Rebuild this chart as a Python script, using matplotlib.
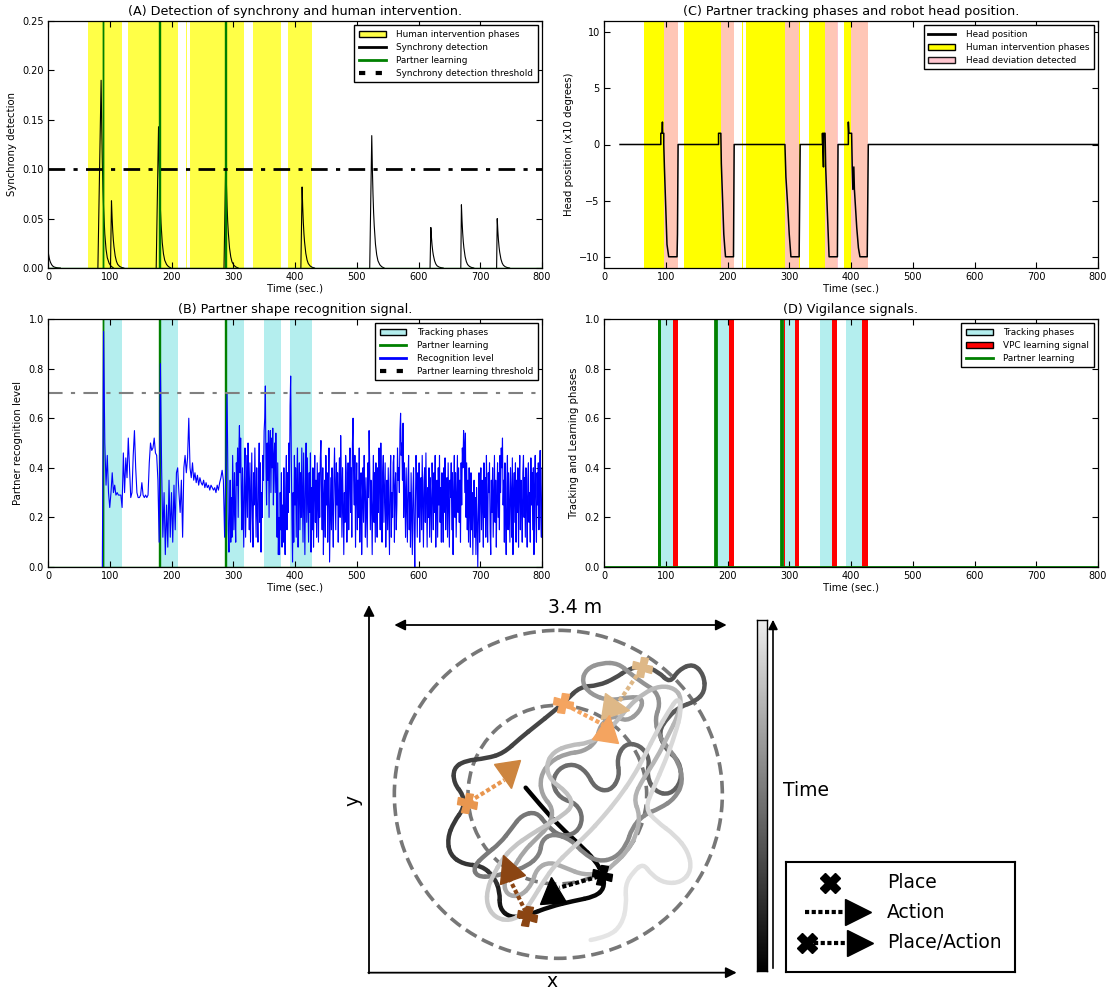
import numpy as np
import matplotlib
matplotlib.use('Agg')
import matplotlib.pyplot as plt
from matplotlib.patches import Patch, Circle, PathPatch, FancyArrowPatch
from matplotlib.lines import Line2D
from matplotlib.path import Path
from matplotlib.markers import MarkerStyle
from matplotlib.transforms import Affine2D
from matplotlib.colors import Normalize, LinearSegmentedColormap

plt.rcParams['font.family'] = ['DejaVu Sans']

# ---------------- data ----------------
human_phases = [(64.5, 120), (129, 210), (223.7, 225.5), (230, 317), (332, 378), (388.5, 428)]
head_deviation = [(96.8, 119.5), (188.7, 210), (293.5, 316.5), (357.5, 378.5), (400.5, 428)]
tracking_B = [(89.2, 119.1), (181, 210), (289, 317), (349.4, 377), (391.4, 427.6)]
tracking_D = [(90.4, 112.2), (181.3, 203.2), (289.5, 309), (349.4, 370), (391.4, 418.4)]
vpc_learning = [(112.2, 119.1), (203.2, 210), (309, 316.5), (370, 377), (418.4, 427), (292.2, 293.0)]

# synchrony detection spikes
sync_start = [0, 80.8, 101.2, 175.2, 285.0, 409.5, 521.0, 618.7, 668.5, 726.5]
sync_peak_t = [0, 86.0, 102.8, 179.0, 288.0, 411.5, 524.3, 620.0, 669.5, 727.5]
sync_peak = [0.018, 0.19, 0.068, 0.143, 0.112, 0.082, 0.134, 0.041, 0.064, 0.050]
decay_dt = [0, 1, 2, 3, 4, 6, 8, 10, 13, 16, 20]
decay_frac = [1, 0.75, 0.56, 0.42, 0.32, 0.18, 0.10, 0.055, 0.025, 0.01, 0]
sync_threshold = 0.1

# partner learning pulses
learn_t = [0, 88.9, 88.9, 89.6, 89.6, 179.2, 179.2, 181.6, 181.6, 286, 286, 287.6, 287.6, 800]
learn_v = [0, 0, 1, 1, 0, 0, 1, 1, 0, 0, 1, 1, 0, 0]

# head position (x10 degrees)
head_t = [26, 92, 92, 94, 94.6, 95, 96.8, 96.8, 97.8, 102, 104.8, 118.3, 119, 120,
          185.5, 185.5, 189.2, 190, 194, 195.6, 196.8, 209.7, 210.8,
          293, 294.6, 297.3, 300, 302.7, 316, 317.7,
          353.8, 353.8, 355.4, 355.6, 358, 359, 361, 364.5, 378, 379,
          395.7, 395.7, 396.5, 401, 402, 403, 404.6, 405.5, 409.3, 412, 414.5, 426.3, 428,
          800]
head_v = [0, 0, 1, 1, 2, 1, 1, 0, -2, -8.9, -10, -10, -8, 0,
          0, 1, 1, -1.7, -8, -9.2, -10, -10, 0,
          0, -2.9, -5.3, -8, -10, -10, 0,
          0, 1, -2, 1, 1, -2, -5, -10, -10, 0,
          0, 2, 1, 1, -2, -4, -2, -4, -7.4, -9.2, -10, -10, 0,
          0]

# partner recognition level: every 2 s from 88 s to 288 s ...
rec1_t0, rec1_dt = 88, 2
rec1_values = [
    0.00, 0.95, 0.50, 0.33, 0.45, 0.30, 0.24, 0.30, 0.38, 0.30,
    0.33, 0.29, 0.30, 0.29, 0.29, 0.29, 0.24, 0.46, 0.30, 0.44,
    0.36, 0.52, 0.40, 0.28, 0.30, 0.45, 0.55, 0.40, 0.30, 0.28,
    0.28, 0.29, 0.34, 0.29, 0.28, 0.29, 0.28, 0.29, 0.42, 0.50,
    0.47, 0.48, 0.52, 0.46, 0.45, 0.35, 0.10, 0.82, 0.40, 0.12,
    0.30, 0.05, 0.25, 0.08, 0.35, 0.12, 0.30, 0.10, 0.33, 0.15,
    0.38, 0.40, 0.30, 0.22, 0.35, 0.12, 0.40, 0.45, 0.38, 0.44,
    0.60, 0.40, 0.36, 0.42, 0.35, 0.38, 0.34, 0.37, 0.33, 0.36,
    0.34, 0.33, 0.35, 0.32, 0.34, 0.32, 0.33, 0.31, 0.33, 0.32,
    0.31, 0.32, 0.30, 0.33, 0.31, 0.34, 0.36, 0.39, 0.35, 0.12,
    0.40]
# ... and every 1 s from 290 s to 800 s
rec2_t0, rec2_dt = 290, 1
rec2_values = [
    0.70, 0.45, 0.15, 0.06, 0.22, 0.35, 0.10, 0.28, 0.12, 0.45,
    0.30, 0.15, 0.38, 0.22, 0.10, 0.42, 0.33, 0.48, 0.20, 0.45,
    0.57, 0.38, 0.52, 0.30, 0.15, 0.40, 0.25, 0.08, 0.35, 0.48,
    0.12, 0.30, 0.45, 0.20, 0.50, 0.35, 0.15, 0.42, 0.10, 0.28,
    0.46, 0.20, 0.08, 0.38, 0.25, 0.48, 0.30, 0.12, 0.40, 0.22,
    0.10, 0.35, 0.50, 0.18, 0.42, 0.06, 0.30, 0.20, 0.45, 0.35,
    0.55, 0.60, 0.73, 0.40, 0.25, 0.50, 0.35, 0.55, 0.20, 0.48,
    0.55, 0.30, 0.52, 0.40, 0.56, 0.25, 0.45, 0.50, 0.30, 0.54,
    0.35, 0.12, 0.42, 0.05, 0.20, 0.05, 0.30, 0.15, 0.38, 0.08,
    0.25, 0.10, 0.40, 0.18, 0.05, 0.32, 0.45, 0.15, 0.38, 0.22,
    0.50, 0.30, 0.65, 0.77, 0.45, 0.20, 0.02, 0.30, 0.10, 0.45,
    0.25, 0.40, 0.12, 0.35, 0.48, 0.08, 0.30, 0.42, 0.15, 0.38,
    0.20, 0.48, 0.30, 0.10, 0.46, 0.25, 0.05, 0.35, 0.50, 0.18,
    0.44, 0.28, 0.10, 0.38, 0.22, 0.46, 0.06, 0.32, 0.15, 0.40,
    0.08, 0.30, 0.45, 0.18, 0.35, 0.12, 0.42, 0.25, 0.10, 0.38,
    0.20, 0.44, 0.51, 0.30, 0.15, 0.40, 0.05, 0.28, 0.35, 0.12,
    0.45, 0.25, 0.38, 0.10, 0.32, 0.48, 0.02, 0.20, 0.36, 0.15,
    0.40, 0.22, 0.08, 0.35, 0.48, 0.30, 0.15, 0.42, 0.25, 0.38,
    0.10, 0.30, 0.44, 0.20, 0.53, 0.35, 0.12, 0.40, 0.25, 0.05,
    0.30, 0.18, 0.45, 0.38, 0.10, 0.28, 0.42, 0.15, 0.35, 0.48,
    0.22, 0.40, 0.12, 0.50, 0.60, 0.35, 0.25, 0.45, 0.08, 0.30,
    0.42, 0.15, 0.35, 0.20, 0.48, 0.10, 0.30, 0.38, 0.05, 0.25,
    0.40, 0.18, 0.45, 0.30, 0.12, 0.36, 0.22, 0.08, 0.42, 0.28,
    0.55, 0.40, 0.15, 0.35, 0.25, 0.05, 0.30, 0.45, 0.18, 0.38,
    0.10, 0.42, 0.30, 0.12, 0.40, 0.22, 0.48, 0.35, 0.15, 0.50,
    0.28, 0.10, 0.38, 0.45, 0.18, 0.30, 0.42, 0.08, 0.25, 0.35,
    0.15, 0.40, 0.22, 0.05, 0.35, 0.45, 0.12, 0.30, 0.20, 0.42,
    0.45, 0.10, 0.32, 0.38, 0.15, 0.25, 0.48, 0.35, 0.40, 0.30,
    0.55, 0.62, 0.45, 0.50, 0.35, 0.58, 0.20, 0.42, 0.30, 0.12,
    0.40, 0.25, 0.10, 0.35, 0.45, 0.15, 0.30, 0.08, 0.38, 0.22,
    0.05, 0.30, 0.40, 0.15, 0.00, 0.25, 0.45, 0.35, 0.12, 0.38,
    0.20, 0.42, 0.10, 0.30, 0.36, 0.15, 0.45, 0.25, 0.08, 0.35,
    0.40, 0.18, 0.46, 0.28, 0.08, 0.32, 0.20, 0.40, 0.12, 0.36,
    0.25, 0.10, 0.42, 0.30, 0.15, 0.38, 0.22, 0.45, 0.08, 0.30,
    0.35, 0.12, 0.40, 0.25, 0.45, 0.18, 0.32, 0.10, 0.38, 0.28,
    0.10, 0.40, 0.22, 0.44, 0.15, 0.30, 0.36, 0.12, 0.42, 0.25,
    0.08, 0.35, 0.28, 0.42, 0.15, 0.38, 0.05, 0.30, 0.45, 0.20,
    0.38, 0.12, 0.30, 0.45, 0.22, 0.40, 0.18, 0.35, 0.10, 0.42,
    0.25, 0.48, 0.40, 0.55, 0.50, 0.30, 0.54, 0.20, 0.42, 0.15,
    0.35, 0.10, 0.40, 0.22, 0.08, 0.38, 0.15, 0.30, 0.05, 0.25,
    0.35, 0.12, 0.28, 0.05, 0.32, 0.18, 0.00, 0.22, 0.38, 0.10,
    0.30, 0.40, 0.15, 0.35, 0.25, 0.08, 0.42, 0.20, 0.36, 0.12,
    0.45, 0.25, 0.10, 0.38, 0.30, 0.42, 0.15, 0.05, 0.35, 0.22,
    0.40, 0.12, 0.30, 0.45, 0.18, 0.35, 0.08, 0.28, 0.42, 0.20,
    0.38, 0.15, 0.45, 0.30, 0.48, 0.40, 0.52, 0.25, 0.35, 0.10,
    0.42, 0.20, 0.05, 0.32, 0.45, 0.15, 0.38, 0.25, 0.10, 0.40,
    0.30, 0.12, 0.44, 0.05, 0.28, 0.38, 0.18, 0.42, 0.10, 0.35,
    0.22, 0.40, 0.08, 0.30, 0.45, 0.15, 0.35, 0.25, 0.10, 0.38,
    0.45, 0.20, 0.36, 0.12, 0.40, 0.28, 0.08, 0.35, 0.42, 0.18,
    0.30, 0.10, 0.44, 0.25, 0.38, 0.15, 0.40, 0.05, 0.32, 0.45,
    0.20, 0.10, 0.38, 0.25, 0.42, 0.15, 0.35, 0.47, 0.20, 0.12,
    0.40]
rec_threshold = 0.7

# trajectory of the robot in the arena (picture grid units, y downward), in time order
traj_x = [527, 575, 630, 690, 735, 760, 763, 735, 670, 600, 530,
          480, 448, 450, 432, 395, 340, 300, 292, 312, 342, 340, 312, 310, 345, 410, 460, 510, 560,
          610, 650, 690, 745, 795, 835, 880, 925, 960, 985, 1030, 1062, 1065, 1035, 990,
          955, 925, 945, 990, 995, 960, 915, 890, 900, 870, 825, 800, 810, 780, 735, 710, 670, 625,
          605, 630, 680, 700, 680, 630, 590, 560, 515, 485, 450, 405, 370, 380, 430, 480, 530, 570,
          575, 610, 665, 700, 745, 795, 830, 845, 880, 930, 975, 1000,
          985, 955, 925, 915, 930, 920, 880, 840, 805, 755, 708, 695, 722, 780, 840, 880, 870, 830,
          790, 750, 740, 700, 650, 600, 570, 575, 610, 600, 560, 520, 490, 460, 470, 510, 545, 560,
          600, 650, 700, 760, 800,
          830, 860, 870, 850, 880, 920, 955, 985, 995, 975, 930, 880, 835, 800, 760, 715, 660, 610,
          588, 600, 650, 670, 640, 590, 540, 490, 455, 430, 412, 410, 435, 480, 520,
          550, 580, 615, 660, 710, 760, 805, 850, 885, 920, 955, 985, 995, 975, 945, 910, 885, 920,
          975, 1015, 1025, 995, 945, 905, 880, 850, 825, 830, 815, 775, 722]
traj_y = [578, 635, 695, 750, 795, 840, 880, 905, 918, 935, 962,
          968, 940, 890, 845, 812, 808, 780, 730, 680, 640, 600, 565, 520, 497, 490, 475, 430, 390,
          350, 315, 275, 272, 250, 222, 212, 230, 265, 225, 205, 240, 290, 320, 335,
          365, 410, 460, 500, 560, 600, 590, 545, 490, 450, 445, 490, 545, 590, 580, 530, 505, 520,
          565, 610, 625, 670, 715, 725, 690, 650, 660, 700, 745, 780, 815, 845, 845, 830, 815, 780,
          735, 715, 735, 775, 800, 790, 750, 700, 660, 640, 610, 560,
          500, 460, 420, 370, 330, 290, 265, 235, 205, 203, 222, 262, 298, 318, 305, 310, 350, 380,
          360, 390, 440, 470, 475, 500, 545, 600, 640, 690, 730, 770, 820, 860, 900, 905, 870, 820,
          800, 820, 840, 835, 800,
          770, 720, 660, 610, 550, 490, 420, 360, 310, 280, 272, 295, 335, 380, 420, 445, 450, 470,
          510, 555, 590, 630, 660, 690, 720, 755, 795, 840, 880, 930, 968, 978, 955,
          910, 860, 810, 765, 720, 665, 610, 545, 480, 410, 350, 305, 345, 420, 500, 580, 640, 680,
          720, 770, 825, 862, 865, 840, 805, 830, 870, 930, 990, 1025, 1035]

# places (crosses) and actions (triangles)
place_x = [877, 640, 350, 530, 755]
place_y = [215, 325, 625, 962, 840]
action_x = [797, 772, 478, 474, 607]
action_y = [340, 398, 540, 815, 886]
action_from_x = [872, 648, 358, 527, 745]
action_from_y = [225, 330, 620, 950, 845]
action_to_x = [808, 758, 463, 472, 628]
action_to_y = [318, 388, 555, 838, 878]
action_angle = [-100, -10, -170, 20, 5]
pa_colors = ['#DEB887', '#F4A460', '#CD853F', '#8B4513', '#000000']
place_colors = ['#DEB887', '#F4A460', '#E8964F', '#8B4513', '#000000']

# ---------------- figure ----------------
W, H = 1116, 990
fig = plt.figure(figsize=(W / 100, H / 100), dpi=100)


def px_axes(l, t, r, b):
    return fig.add_axes([l / W, (H - b) / H, (r - l) / W, (b - t) / H])


def style(ax, title, ylabel):
    ax.set_title(title, fontsize=9.2, pad=4)
    ax.set_xlabel('Time (sec.)', fontsize=7.3, labelpad=1)
    ax.set_ylabel(ylabel, fontsize=7.3, labelpad=4)
    ax.tick_params(direction='in', top=True, right=True, labelsize=7, length=4, pad=3)
    ax.set_xlim(0, 800)
    ax.set_xticks(range(0, 801, 100))
    for s in ax.spines.values():
        s.set_linewidth(0.9)


def legend(ax, handles, labels):
    leg = ax.legend(handles, labels, loc='upper right', fontsize=6.4, fancybox=False,
                    edgecolor='black', framealpha=1, handlelength=3, handletextpad=1.2,
                    borderpad=0.5, labelspacing=0.45)
    leg.get_frame().set_linewidth(1)


YEL_A = (1, 1, 0, 0.72)
CYAN = '#B4EEEE'
PINK_A = 0.9

# (A)
axA = px_axes(48, 21, 542, 268)
for a, b in human_phases:
    axA.axvspan(a, b, color=YEL_A, lw=0)
for s, pt, pv in zip(sync_start, sync_peak_t, sync_peak):
    xs = [s] + [pt + d for d in decay_dt]
    ys = [0] + [pv * f for f in decay_frac]
    axA.plot(xs, ys, color='black', lw=0.8)
axA.plot(learn_t, learn_v, color='green', lw=1.0)
axA.axhline(sync_threshold, color='black', lw=2, linestyle=(0, (6, 3, 1.5, 3)))
axA.set_ylim(0, 0.25)
axA.set_yticks([0, 0.05, 0.10, 0.15, 0.20, 0.25])
axA.set_yticklabels(['0.00', '0.05', '0.10', '0.15', '0.20', '0.25'])
style(axA, '(A) Detection of synchrony and human intervention.', 'Synchrony detection')
legend(axA, [Patch(facecolor=YEL_A, edgecolor='black'),
             Line2D([], [], color='black', lw=2),
             Line2D([], [], color='green', lw=2),
             Line2D([], [], color='black', lw=3, linestyle=(0, (1.5, 2.5)))],
       ['Human intervention phases', 'Synchrony detection', 'Partner learning',
        'Synchrony detection threshold'])

# (C)
axC = px_axes(604, 21, 1098, 268)
for a, b in human_phases:
    axC.axvspan(a, b, color='yellow', lw=0)
for a, b in head_deviation:
    axC.axvspan(a, b, color='pink', alpha=PINK_A, lw=0)
axC.plot(head_t, head_v, color='black', lw=1.1)
axC.set_ylim(-11, 11)
axC.set_yticks([-10, -5, 0, 5, 10])
style(axC, '(C) Partner tracking phases and robot head position.', 'Head position (x10 degrees)')
legend(axC, [Line2D([], [], color='black', lw=2),
             Patch(facecolor='yellow', edgecolor='black'),
             Patch(facecolor='pink', edgecolor='black', alpha=PINK_A)],
       ['Head position', 'Human intervention phases', 'Head deviation detected'])

# (B)
axB = px_axes(48, 319, 542, 567)
for a, b in tracking_B:
    axB.axvspan(a, b, color=CYAN, lw=0)
rec_t = np.concatenate([np.arange(len(rec1_values)) * rec1_dt + rec1_t0,
                        np.arange(len(rec2_values)) * rec2_dt + rec2_t0])
rec_v = rec1_values + rec2_values
axB.plot(learn_t, learn_v, color='green', lw=1.0)
axB.plot(rec_t, rec_v, color='blue', lw=0.8)
axB.axhline(rec_threshold, color='gray', lw=1.5, linestyle=(0, (7, 4, 2, 4)))
axB.set_ylim(0, 1)
axB.set_yticks([0, 0.2, 0.4, 0.6, 0.8, 1.0])
style(axB, '(B) Partner shape recognition signal.', 'Partner recognition level')
legend(axB, [Patch(facecolor=CYAN, edgecolor='black'),
             Line2D([], [], color='green', lw=2),
             Line2D([], [], color='blue', lw=2),
             Line2D([], [], color='black', lw=3, linestyle=(0, (1.5, 2.5)))],
       ['Tracking phases', 'Partner learning', 'Recognition level', 'Partner learning threshold'])

# (D)
axD = px_axes(604, 319, 1098, 567)
for a, b in tracking_D:
    axD.axvspan(a, b, color=CYAN, lw=0)
for a, b in vpc_learning:
    axD.axvspan(a, b, color='red', lw=0)
axD.plot(learn_t, learn_v, color='green', lw=2)
axD.set_ylim(0, 1)
axD.set_yticks([0, 0.2, 0.4, 0.6, 0.8, 1.0])
style(axD, '(D) Vigilance signals.', 'Tracking and Learning phases')
legend(axD, [Patch(facecolor=CYAN, edgecolor='black'),
             Patch(facecolor='red', edgecolor='black'),
             Line2D([], [], color='green', lw=2)],
       ['Tracking phases', 'VPC learning signal', 'Partner learning'])

# (E) arena drawing
axE = fig.add_axes([350 / W, 0, 420 / W, 395 / H])
axE.set_xlim(0, 1260)
axE.set_ylim(1185, 0)
axE.axis('off')

arrow_kw = dict(arrowstyle='-|>', color='black', lw=1.3, mutation_scale=16, shrinkA=0, shrinkB=0)
axE.annotate('', xy=(57, 30), xytext=(57, 1135), arrowprops=arrow_kw, annotation_clip=False)
axE.annotate('', xy=(1160, 1133), xytext=(55, 1133), arrowprops=arrow_kw, annotation_clip=False)
axE.annotate('', xy=(1130, 90), xytext=(133, 90),
             arrowprops=dict(arrowstyle='<|-|>', color='black', lw=1.3, mutation_scale=16,
                             shrinkA=0, shrinkB=0), annotation_clip=False)
axE.text(675, 38, '3.4 m', fontsize=13.5, ha='center', va='center')
axE.text(606, 1160, 'x', fontsize=13.5, ha='center', va='center', clip_on=False)
axE.text(10, 615, 'y', fontsize=13.5, ha='center', va='center', rotation=90, clip_on=False)

axE.add_patch(Circle((625, 598), 492, fill=False, edgecolor='#777777', lw=2.6,
                     linestyle=(0, (3.5, 1.7))))
axE.add_patch(Circle((622, 599), 268, fill=False, edgecolor='#777777', lw=2.6,
                     linestyle=(0, (3.5, 1.7))))

# time-to-grey scale of the trajectory
time_cmap = LinearSegmentedColormap.from_list(
    'time_grey', [(0.0, '#000000'), (0.055, '#0a0a0a'), (0.07, '#333333'), (0.22, '#5a5a5a'),
                  (0.45, '#8a8a8a'), (0.7, '#b4b4b4'), (1.0, '#e6e6e6')])
pts = np.column_stack([traj_x, traj_y]).astype(float)
N = len(pts)
norm = Normalize(0, N - 1)
for i in range(1, N - 1):
    p0 = pts[0] if i == 1 else (pts[i - 1] + pts[i]) / 2
    p2 = pts[-1] if i == N - 2 else (pts[i] + pts[i + 1]) / 2
    path = Path([p0, pts[i], p2], [Path.MOVETO, Path.CURVE3, Path.CURVE3])
    axE.add_patch(PathPatch(path, fill=False, edgecolor=time_cmap(norm(i)), lw=3.2,
                            capstyle='round', joinstyle='round'))

for k in range(len(place_x)):
    axE.plot([action_from_x[k], action_to_x[k]], [action_from_y[k], action_to_y[k]],
             color=place_colors[k], lw=3, linestyle=(0, (1, 0.6)), solid_capstyle='butt')
    axE.plot(place_x[k], place_y[k], linestyle='none',
             marker=MarkerStyle('P', transform=Affine2D().rotate_deg(-15)),
             ms=14, color=place_colors[k], mec=place_colors[k])
    axE.plot(action_x[k], action_y[k], linestyle='none',
             marker=MarkerStyle('^', transform=Affine2D().rotate_deg(action_angle[k])),
             ms=19, color=pa_colors[k], mec=pa_colors[k])

# time colour bar
cax = px_axes(757, 620, 767, 971)
cax.imshow(np.linspace(0, 0.93, 256)[:, None], cmap='gray', vmin=0, vmax=1, aspect='auto',
           origin='lower', extent=[0, 1, 0, 1])
cax.set_xticks([])
cax.set_yticks([])
for s in cax.spines.values():
    s.set_linewidth(1)
fig.add_artist(FancyArrowPatch(posA=(773 / W, (H - 971) / H), posB=(773 / W, (H - 617) / H),
                               transform=fig.transFigure, arrowstyle='-|>', mutation_scale=14,
                               lw=1.2, color='black'))
fig.text(783 / W, (H - 790) / H, 'Time', fontsize=13.5, ha='left', va='center')

# symbol legend
lax = px_axes(786, 862, 1015, 972)
lax.set_xlim(0, 229)
lax.set_ylim(110, 0)
lax.set_xticks([])
lax.set_yticks([])
for s in lax.spines.values():
    s.set_linewidth(1.5)
lax.plot(44, 21, marker='X', ms=15, color='black', linestyle='none')
lax.text(101, 21, 'Place', fontsize=13.5, va='center')
lax.plot([19, 62], [50, 50], color='black', lw=3, linestyle=(0, (1, 0.6)))
lax.plot(72, 50, marker='>', ms=19, color='black', linestyle='none')
lax.text(101, 50, 'Action', fontsize=13.5, va='center')
lax.plot([28, 64], [81, 81], color='black', lw=3, linestyle=(0, (1, 0.6)))
lax.plot(21, 81, marker='X', ms=15, color='black', linestyle='none')
lax.plot(74, 81, marker='>', ms=19, color='black', linestyle='none')
lax.text(101, 81, 'Place/Action', fontsize=13.5, va='center')

fig.savefig('out.png', dpi=100)
